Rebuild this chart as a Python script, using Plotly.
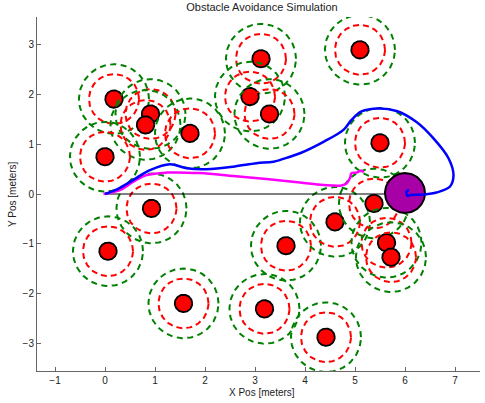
import numpy as np
import plotly.graph_objects as go

# Obstacle centres (meters)
obs_x = [3.12, 5.10, 0.18, 0.91, 0.81, 1.70, 2.90, 3.29, 0.00, 5.50,
         0.93, 0.06, 3.62, 4.60, 5.38, 5.63, 5.72, 1.57, 3.19, 4.42]
obs_y = [2.72, 2.90, 1.91, 1.61, 1.39, 1.22, 1.96, 1.61, 0.75, 1.03,
         -0.29, -1.15, -1.04, -0.56, -0.19, -0.98, -1.27, -2.20, -2.31, -2.88]
obs_r = 0.175
inner_r = 0.5
outer_r = 0.7

robot_x, robot_y, robot_r = 6.0, 0.02, 0.4
start = (0.0, 0.0)

blue_x = [0.0, 0.25, 0.56, 0.9, 1.3, 1.63, 2.03, 2.57, 3.03, 3.37, 3.7, 3.9, 4.37, 4.77,
          4.93, 5.13, 5.47, 5.83, 6.23, 6.57, 6.87, 6.97, 6.9, 6.63, 6.37, 6.1, 6.05, 6.03, 6.08]
blue_y = [0.0, 0.1, 0.28, 0.48, 0.6, 0.52, 0.5, 0.55, 0.62, 0.65, 0.75, 0.82, 1.05, 1.29,
          1.49, 1.66, 1.72, 1.67, 1.45, 1.12, 0.72, 0.38, 0.15, 0.03, -0.01, -0.02, -0.04, 0.05, 0.08]

mag_x = [-0.03, 0.3, 0.57, 0.83, 1.23, 1.9, 2.57, 3.23, 3.9, 4.37, 4.73, 4.83, 4.9,
         4.93, 5.03, 5.13, 5.17]
mag_y = [0.0, 0.08, 0.25, 0.38, 0.43, 0.42, 0.36, 0.3, 0.23, 0.18, 0.17, 0.21, 0.32,
         0.42, 0.43, 0.47, 0.43]

x_ticks = [-1, 0, 1, 2, 3, 4, 5, 6, 7]
y_ticks = [-3, -2, -1, 0, 1, 2, 3]

t = np.linspace(0, 2 * np.pi, 121)


def circ(cx, cy, r):
    return cx + r * np.cos(t), cy + r * np.sin(t)


fig = go.Figure()
for cx, cy in zip(obs_x, obs_y):
    x, y = circ(cx, cy, obs_r)
    fig.add_trace(go.Scatter(x=x, y=y, mode="lines", fill="toself", fillcolor="#ff0000",
                             line=dict(color="black", width=1.8), hoverinfo="skip"))
    x, y = circ(cx, cy, inner_r)
    fig.add_trace(go.Scatter(x=x, y=y, mode="lines",
                             line=dict(color="#ff0000", width=2, dash="6px,4px"), hoverinfo="skip"))
    x, y = circ(cx, cy, outer_r)
    fig.add_trace(go.Scatter(x=x, y=y, mode="lines",
                             line=dict(color="#008000", width=2, dash="6px,4.5px"), hoverinfo="skip"))

fig.add_trace(go.Scatter(x=[start[0], robot_x], y=[start[1], 0.0], mode="lines",
                         line=dict(color="black", width=1), hoverinfo="skip"))
x, y = circ(robot_x, robot_y, robot_r)
fig.add_trace(go.Scatter(x=x, y=y, mode="lines", fill="toself", fillcolor="#a600a6",
                         line=dict(color="black", width=2), hoverinfo="skip"))
fig.add_trace(go.Scatter(x=mag_x, y=mag_y, mode="lines", line=dict(color="#ff00ff", width=2.5, shape="spline"),
                         hoverinfo="skip"))
fig.add_trace(go.Scatter(x=blue_x, y=blue_y, mode="lines", line=dict(color="#0000ff", width=2.5, shape="spline"),
                         hoverinfo="skip"))

font = dict(family="Liberation Sans, Arial", size=10, color="#222222")
axis_common = dict(showgrid=False, zeroline=False, showline=True, linecolor="#666666", linewidth=1,
                   ticks="inside", ticklen=4, tickcolor="#666666",
                   tickfont=font, mirror=False, automargin=False)
fig.update_layout(
    width=485, height=403,
    margin=dict(l=37, r=5, t=17, b=32),
    paper_bgcolor="white", plot_bgcolor="white",
    showlegend=False,
    title=dict(text="Obstacle Avoidance Simulation", x=262 / 485, xanchor="center",
               y=1 - 7 / 403, yanchor="middle", yref="container",
               font=dict(family="Liberation Sans, Arial", size=11, color="#222222")),
    xaxis=dict(range=[-1.36, 7.5], tickvals=x_ticks,
               ticktext=[str(v).replace("-", "\u2212") for v in x_ticks], **axis_common),
    yaxis=dict(range=[-3.56, 3.56], tickvals=y_ticks,
               ticktext=[str(v).replace("-", "\u2212") for v in y_ticks], **axis_common),
    annotations=[
        dict(text="X Pos [meters]", xref="paper", yref="paper",
             x=(262 - 37) / 443, y=-(392 - 371) / 354,
             xanchor="center", yanchor="middle", showarrow=False, font=font),
        dict(text="Y Pos [meters]", xref="paper", yref="paper",
             x=(12 - 37) / 443, y=(371 - 194) / 354,
             xanchor="center", yanchor="middle", showarrow=False, font=font, textangle=-90),
    ],
)
fig.write_html("out.html", config={"displayModeBar": False},
               post_script="document.body.style.margin='0';document.body.style.overflow='hidden';")
